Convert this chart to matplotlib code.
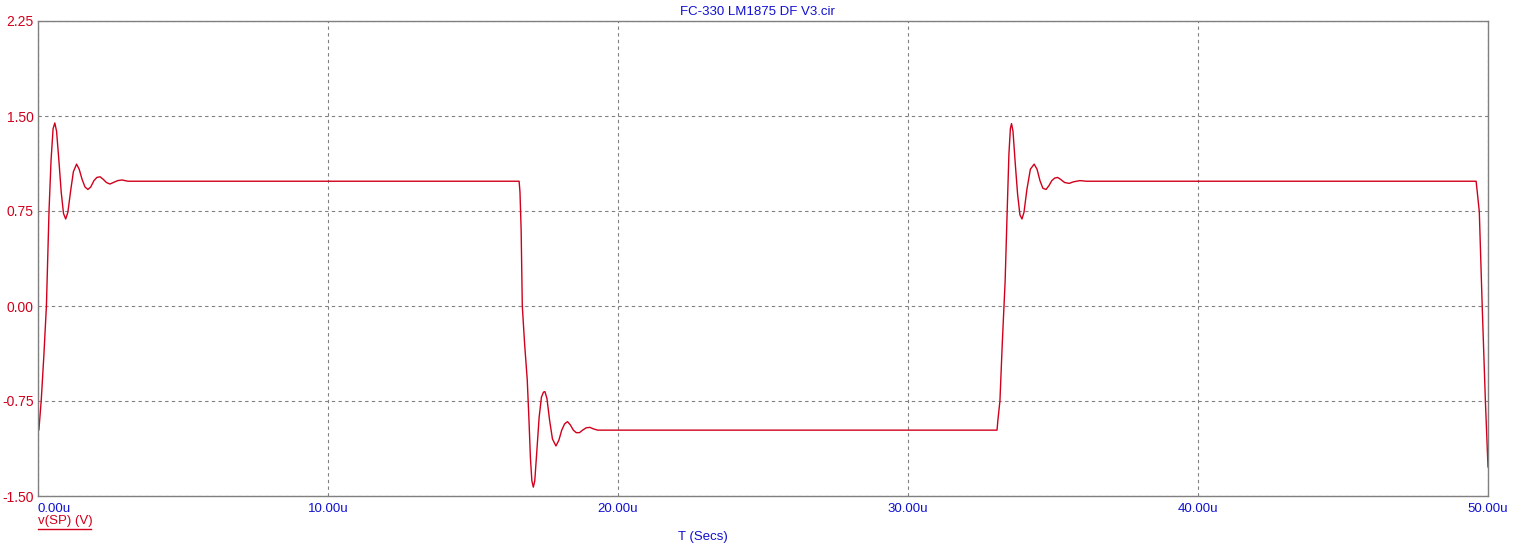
import matplotlib
matplotlib.use("Agg")
import matplotlib.pyplot as plt
from matplotlib.lines import Line2D

# time in microseconds, v(SP) in volts
t_us = [0.00, 0.03, 0.11, 0.20, 0.29, 0.38, 0.45, 0.52, 0.58, 0.64, 0.72, 0.80,
        0.88, 0.955, 1.03, 1.12, 1.22, 1.33, 1.42, 1.52, 1.62, 1.72, 1.82, 1.93,
        2.03, 2.14, 2.25, 2.36, 2.48, 2.60, 2.75, 2.90, 3.10,
        16.59, 16.62, 16.66, 16.70, 16.78, 16.87, 16.93, 16.98, 17.03, 17.08,
        17.13, 17.20, 17.28, 17.36, 17.43, 17.48, 17.55, 17.64, 17.74, 17.86,
        17.96, 18.06, 18.16, 18.26, 18.36, 18.46, 18.56, 18.67, 18.78, 18.90,
        19.03, 19.15, 19.30, 19.45,
        33.07, 33.10, 33.17, 33.25, 33.35, 33.42, 33.48, 33.53, 33.57, 33.62,
        33.70, 33.78, 33.86, 33.93, 34.00, 34.10, 34.22, 34.35, 34.45, 34.55,
        34.65, 34.76, 34.86, 34.96, 35.06, 35.16, 35.26, 35.40, 35.56, 35.70,
        35.93, 36.15,
        49.59, 49.63, 49.70, 49.80, 49.91, 50.00]
v_sp = [-0.98, -0.98, -0.75, -0.40, 0.00, 0.75, 1.15, 1.40, 1.445, 1.38, 1.15, 0.90,
        0.73, 0.687, 0.74, 0.90, 1.06, 1.12, 1.08, 1.00, 0.94, 0.92, 0.94, 0.99,
        1.015, 1.02, 1.00, 0.975, 0.963, 0.975, 0.99, 0.995, 0.985,
        0.985, 0.90, 0.60, 0.00, -0.30, -0.58, -0.90, -1.20, -1.38, -1.43,
        -1.38, -1.15, -0.88, -0.72, -0.68, -0.676, -0.73, -0.90, -1.05, -1.105,
        -1.06, -0.98, -0.93, -0.913, -0.94, -0.98, -1.00, -1.00, -0.98, -0.962,
        -0.958, -0.97, -0.98, -0.98,
        -0.98, -0.90, -0.75, -0.30, 0.20, 0.75, 1.20, 1.40, 1.44, 1.38,
        1.12, 0.88, 0.72, 0.687, 0.74, 0.92, 1.08, 1.12, 1.08, 0.99,
        0.93, 0.92, 0.95, 0.99, 1.01, 1.015, 1.00, 0.975, 0.968, 0.98,
        0.99, 0.985,
        0.985, 0.90, 0.745, 0.00, -0.75, -1.27]

x_ticks = [0, 10, 20, 30, 40, 50]
x_labels = ["0.00u", "10.00u", "20.00u", "30.00u", "40.00u", "50.00u"]
y_ticks = [-1.50, -0.75, 0.00, 0.75, 1.50, 2.25]
y_labels = ["-1.50", "-0.75", "0.00", "0.75", "1.50", "2.25"]

RED = "#d0001c"
BLUE = "#1010d0"
GRAY = "#808080"

plt.rcParams["font.family"] = ["Liberation Sans", "DejaVu Sans"]

fig = plt.figure(figsize=(15.23, 5.58), dpi=100)
ax = fig.add_axes([38 / 1523, 1 - 496 / 558, 1450 / 1523, 475 / 558])

ax.plot(t_us, v_sp, color=RED, lw=1.0)

ax.set_xlim(0, 50)
ax.set_ylim(-1.5, 2.25)
ax.set_xticks(x_ticks)
ax.set_yticks(y_ticks)
ax.set_xticklabels(x_labels, color=BLUE, fontsize=9.5)
ax.set_yticklabels(y_labels, color=RED, fontsize=10)
ax.tick_params(axis="x", length=0, pad=5)
ax.tick_params(axis="y", length=0, pad=3)
ax.get_xticklabels()[0].set_ha("left")

ax.grid(True, color=GRAY, linestyle=(0, (3, 3)), lw=0.8)
for s in ax.spines.values():
    s.set_color(GRAY)
    s.set_linewidth(1)

fig.text(757 / 1523, 1 - 12 / 558, "FC-330 LM1875 DF V3.cir",
         color=BLUE, fontsize=9.5, ha="center", va="center")
fig.text(703 / 1523, 1 - 537 / 558, "T (Secs)",
         color=BLUE, fontsize=9.5, ha="center", va="center")
fig.text(38 / 1523, 1 - 521 / 558, "v(SP) (V)",
         color=RED, fontsize=9.5, ha="left", va="center")
fig.add_artist(Line2D([38 / 1523, 91 / 1523], [1 - 528.5 / 558, 1 - 528.5 / 558],
                      color=RED, lw=1))

fig.savefig("out.png", dpi=100)
